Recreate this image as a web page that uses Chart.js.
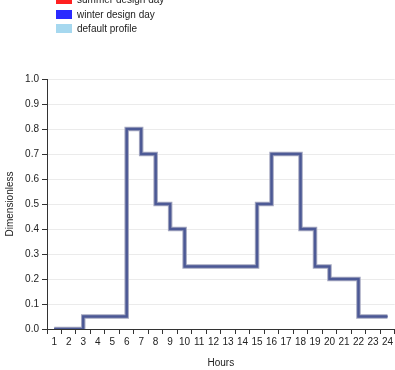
<!DOCTYPE html>
<html>
<head>
<meta charset="utf-8">
<script src="https://cdn.jsdelivr.net/npm/chart.js@4"></script>
<style>
  body { margin: 0; background: #fff; font-family: "Liberation Sans", Arial, sans-serif; }
  #wrap { position: relative; width: 395px; height: 370px; overflow: hidden; }
  #chart { position: absolute; left: 0; top: 0; }
  .leg { position: absolute; left: 56px; font-size: 10px; color: #222; height: 10px; line-height: 10px; }
  .leg span { display: inline-block; width: 16px; height: 9px; vertical-align: top; margin-right: 5px; }
</style>
</head>
<body>
<div id="wrap">
  <canvas id="chart" width="395" height="370"></canvas>
  <div class="leg" style="top:-5px"><span style="background:#ff2020"></span>summer design day</div>
  <div class="leg" style="top:10px"><span style="background:#2a2aff"></span>winter design day</div>
  <div class="leg" style="top:24px"><span style="background:#a6d8ef"></span>default profile</div>
</div>
<script>
const horas = ['1','2','3','4','5','6','7','8','9','10','11','12','13','14','15','16','17','18','19','20','21','22','23','24'];
const verao = [0, 0, 0.05, 0.05, 0.05, 0.8, 0.7, 0.5, 0.4, 0.25, 0.25, 0.25, 0.25, 0.25, 0.5, 0.7, 0.7, 0.4, 0.25, 0.2, 0.2, 0.05, 0.05, 0.05];
const inverno = [0, 0, 0.05, 0.05, 0.05, 0.8, 0.7, 0.5, 0.4, 0.25, 0.25, 0.25, 0.25, 0.25, 0.5, 0.7, 0.7, 0.4, 0.25, 0.2, 0.2, 0.05, 0.05, 0.05];
const padrao = [0, 0, 0.05, 0.05, 0.05, 0.8, 0.7, 0.5, 0.4, 0.25, 0.25, 0.25, 0.25, 0.25, 0.5, 0.7, 0.7, 0.4, 0.25, 0.2, 0.2, 0.05, 0.05, 0.05];

const fonte = { family: '"Liberation Sans", Arial, sans-serif', size: 10 };

new Chart(document.getElementById('chart').getContext('2d'), {
    type: 'line',
    data: {
        labels: horas,
        datasets: [
            // as três séries coincidem; sobrepostas dão o traço azul-acinzentado
            { label: 'summer design day', data: verao, borderColor: '#a3a6bf', borderWidth: 4.5, stepped: 'before', pointRadius: 0, fill: false, order: 3 },
            { label: 'winter design day', data: inverno, borderColor: '#56629c', borderWidth: 2.5, stepped: 'before', pointRadius: 0, fill: false, order: 2 },
            { label: 'default profile', data: padrao, borderColor: '#4b5894', borderWidth: 1.5, stepped: 'before', pointRadius: 0, fill: false, order: 1 }
        ]
    },
    options: {
        responsive: false,
        animation: false,
        layout: { padding: { top: 79, left: 0, right: 0, bottom: 0 } },
        plugins: { legend: { display: false }, tooltip: { enabled: false } }, // legenda feita no HTML
        scales: {
            x: {
                offset: true,
                grid: { offset: true, drawOnChartArea: false, drawTicks: true, tickLength: 5, tickColor: '#333' },
                border: { display: true, color: '#333', width: 1 },
                ticks: { color: '#222', font: fonte, padding: 2, maxRotation: 0, autoSkip: false },
                title: { display: true, text: 'Hours', color: '#222', font: fonte, padding: { top: 8, bottom: 1 } },
                afterFit: s => { s.height = 41; }
            },
            y: {
                min: 0,
                max: 1,
                ticks: { stepSize: 0.1, color: '#222', font: fonte, padding: 3, callback: v => v.toFixed(1) },
                grid: { color: '#ebebeb', lineWidth: 1, tickLength: 5, tickColor: '#333' },
                border: { display: true, color: '#333', width: 1 },
                title: { display: true, text: 'Dimensionless', color: '#222', font: fonte, padding: { top: 4, bottom: 4 } },
                afterFit: s => { s.width = 47; }
            }
        }
    }
});
</script>
</body>
</html>
